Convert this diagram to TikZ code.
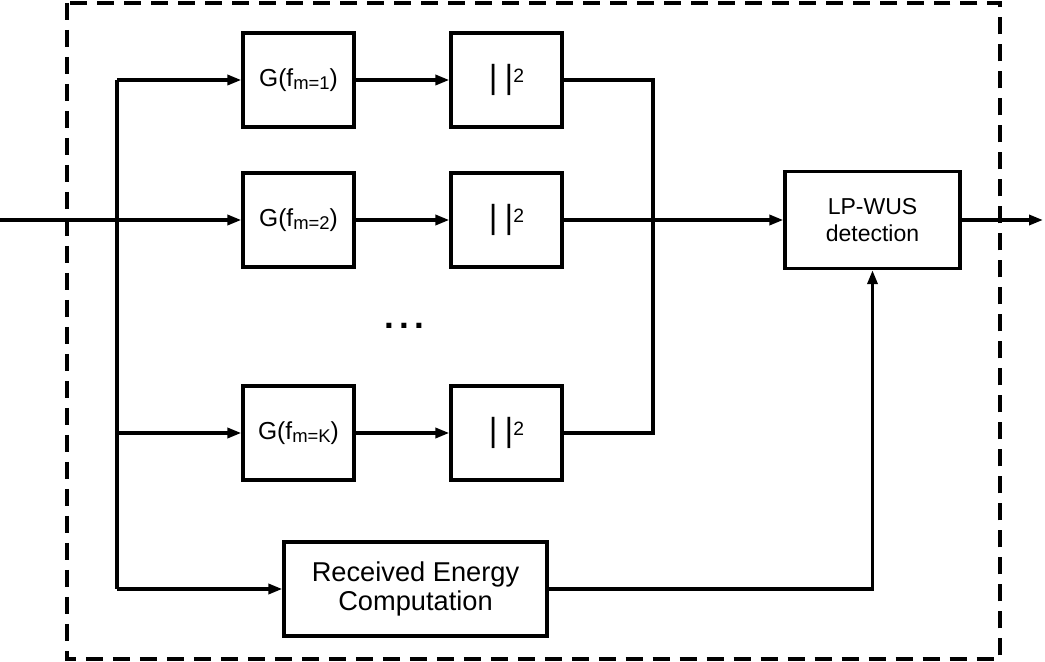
\documentclass[tikz,border=0pt]{standalone}
\usepackage{fontspec}
\setmainfont{Liberation Sans}
\usetikzlibrary{arrows.meta}

\newcommand{\fsub}[1]{\raisebox{-1.9pt}{\fontsize{10.5}{10}\selectfont #1}}
\newcommand{\magsq}{|\hspace{4pt}|\raisebox{3.6pt}{\fontsize{11}{11}\selectfont 2}}

\begin{document}
\begin{tikzpicture}[x=0.02cm, y=-0.02cm,
    block/.style={draw, line width=1.9pt, minimum width=2.22cm, minimum height=1.88cm,
      inner sep=0pt, align=center, font=\fontsize{13.1}{15.4}\selectfont},
    gblock/.style={block, font=\fontsize{14}{16}\selectfont},
    sqblock/.style={block, font=\fontsize{19}{20}\selectfont},
    wire/.style={line width=1.9pt},
    arr/.style={wire, -{Triangle[length=0.28cm, width=0.2cm]}}]
  \useasboundingbox (0,0) rectangle (1045,662);

  % Dashed receiver frame
  \draw[line width=1.9pt, dash pattern=on 0.34cm off 0.2cm] (67,3) rectangle (1000,659);

  % Filter bank
  \node[gblock] (g1) at (298.5,80) {G(f\fsub{m=1})};
  \node[gblock] (g2) at (298.5,220) {G(f\fsub{m=2})};
  \node[gblock] (g3) at (298.5,433) {G(f\fsub{m=K})};

  % Squared magnitude
  \node[sqblock] (s1) at (506.5,80) {\magsq};
  \node[sqblock] (s2) at (506.5,220) {\magsq};
  \node[sqblock] (s3) at (506.5,433) {\magsq};

  \node[font=\fontsize{20}{20}\selectfont\bfseries] (dots) at (404,326) {.\hspace{3pt}.\hspace{3pt}.};

  % Detector and energy branch
  \node[block, minimum width=3.5cm, minimum height=1.94cm] (lp) at (872.5,220) {LP-WUS\\detection};
  \node[block, minimum width=5.26cm, font=\fontsize{15.5}{16.4}\selectfont] (re) at (415.5,589) {Received Energy\\Computation};

  % Split and merge points
  \coordinate (in) at (0,220);
  \coordinate (out) at (1043,220);
  \coordinate (st) at (117,80);
  \coordinate (sk) at (117,433);
  \coordinate (sb) at (117,589);
  \coordinate (mt) at (653,80);
  \coordinate (mb) at (653,433);

  % Input side
  \draw[arr] (in) -- (g2);
  \draw[wire] (st) -- (sb);
  \draw[arr] (st) -- (g1);
  \draw[arr] (sk) -- (g3);
  \draw[arr] (sb) -- (re);

  % Branches
  \draw[arr] (g1) -- (s1);
  \draw[arr] (g2) -- (s2);
  \draw[arr] (g3) -- (s3);

  % Combine and detect
  \draw[wire] (s1) -- (mt) -- (mb) -- (s3);
  \draw[arr] (s2) -- (lp);
  \draw[arr] (re) -| (lp);
  \draw[arr] (lp) -- (out);
\end{tikzpicture}
\end{document}
